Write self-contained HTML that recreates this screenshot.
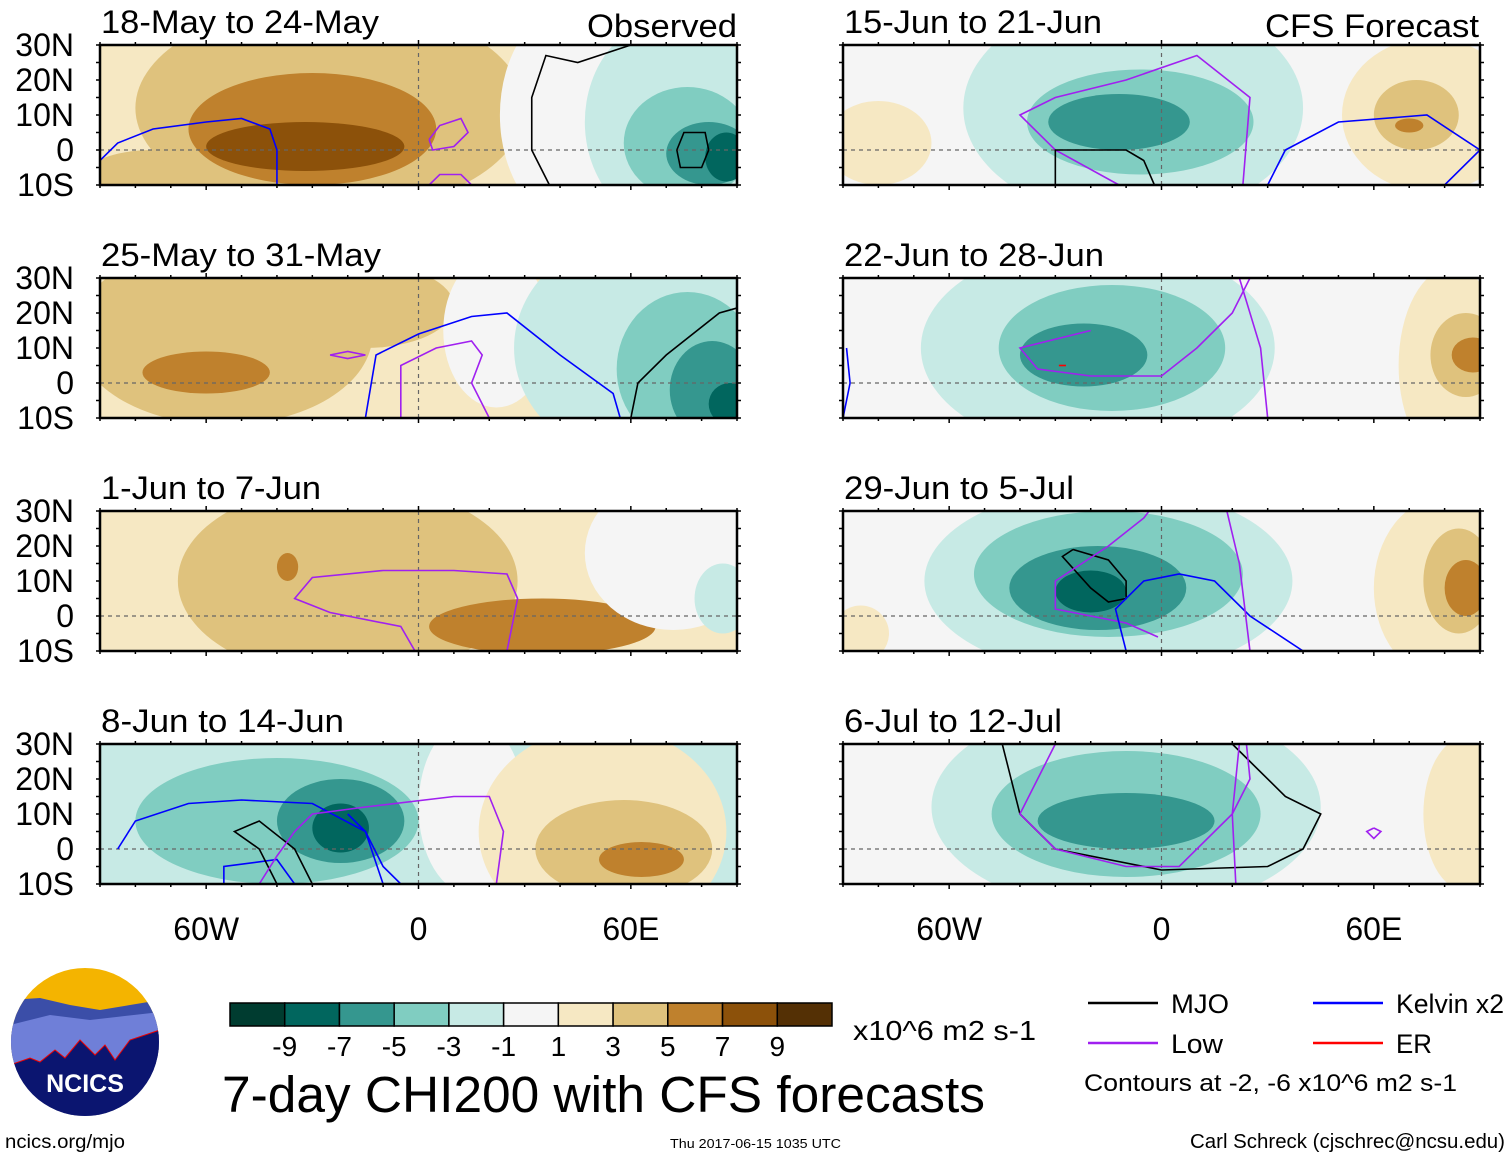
<!DOCTYPE html>
<html><head><meta charset="utf-8"><style>
body{margin:0;background:#fff;width:1510px;height:1158px;overflow:hidden;font-family:"Liberation Sans",sans-serif}
svg text{font-family:"Liberation Sans",sans-serif}
</style></head><body>
<svg id="c" width="1510" height="1158" xmlns="http://www.w3.org/2000/svg"></svg>
<script>
const palette=["#003c30","#01665e","#35978f","#80cdc1","#c7eae5","#f5f5f5","#f6e8c3","#dfc27d","#bf812d","#8c510a","#543005"];
const panelTitles=["18-May to 24-May","25-May to 31-May","1-Jun to 7-Jun","8-Jun to 14-Jun","15-Jun to 21-Jun","22-Jun to 28-Jun","29-Jun to 5-Jul","6-Jul to 12-Jul"];
const panelBg=[6,6,6,4,5,5,5,5];
// blobs: [lon, lat, radiusLon, radiusLat, colorIndex]
const blobs0=[[-75,-8,20,8,7],[-25,12,55,30,7],[-30,6,35,16,8],[-32,1,28,7,9],[45,10,22,32,5],[72,8,25,30,4],[76,2,18,16,3],[82,-1,12,9,2],[87,-2,6,7,1]];
const blobs1=[[-55,14,42,26,7],[-15,22,25,12,7],[-60,3,18,6,8],[22,15,15,22,5],[62,10,35,32,4],[76,4,20,22,3],[83,-2,12,14,2],[88,-6,6,6,1]];
const blobs2=[[-20,10,48,28,7],[35,-3,32,8,8],[-37,14,3,4,8],[72,18,25,22,5],[86,5,8,10,4]];
const blobs3=[[-45,10,50,32,4],[-40,8,40,18,3],[-22,8,18,12,2],[-22,6,8,7,1],[15,12,15,25,5],[52,5,35,30,6],[58,0,25,14,7],[63,-3,12,5,8]];
const blobs4=[[-80,2,15,12,6],[-8,12,48,32,4],[-6,8,32,15,3],[-12,8,20,8,2],[76,10,25,22,6],[72,10,12,10,7],[70,7,4,2,8]];
const blobs5=[[-18,10,50,30,4],[-14,10,32,18,3],[-22,8,18,9,2],[82,5,15,28,6],[86,8,10,12,7],[88,8,6,5,8]];
const blobs6=[[-85,-5,8,8,6],[-15,10,52,27,4],[-15,12,38,18,3],[-18,8,25,12,2],[-20,7,10,6,1],[80,8,20,26,6],[84,10,10,15,7],[86,8,6,8,8]];
const blobs7=[[-10,12,55,30,4],[-10,10,38,18,3],[-10,8,25,8,2],[86,10,12,22,6]];
const panelBlobs=[blobs0,blobs1,blobs2,blobs3,blobs4,blobs5,blobs6,blobs7];
// contours: [color, [[lon,lat],...]]
const lines0=[["#0000ff",[[-92,-5],[-85,2],[-75,6],[-60,8],[-50,9],[-42,6],[-40,0],[-40,-10]]],["#a020f0",[[3,3],[6,7],[12,9],[14,5],[10,1],[4,0],[3,3]]],["#a020f0",[[3,-10],[6,-7],[12,-7],[15,-10]]],["#000",[[37,-10],[32,0],[32,15],[36,27],[45,25],[60,30]]],["#000",[[73,0],[75,5],[81,5],[82,0],[80,-5],[74,-5],[73,0]]]];
const lines1=[["#0000ff",[[-15,-10],[-12,8],[0,14],[15,19],[25,20],[40,8],[55,-3],[57,-10]]],["#a020f0",[[-25,8],[-20,9],[-15,8],[-20,7],[-25,8]]],["#a020f0",[[-5,-10],[-5,5],[5,10],[15,12],[18,8],[15,0],[20,-10]]],["#000",[[60,-10],[62,0],[70,8],[85,20],[92,22]]]];
const lines2=[["#a020f0",[[-1,-10],[-5,-3],[-25,1],[-35,5],[-30,11],[-10,13],[10,13],[25,12],[28,5],[25,-10]]]];
const lines3=[["#0000ff",[[-85,0],[-80,8],[-65,13],[-50,14],[-30,13],[-15,5],[-10,-10]]],["#0000ff",[[-55,-10],[-55,-5],[-40,-3],[-35,-10]]],["#000",[[-40,-10],[-45,0],[-52,5],[-45,8],[-35,0],[-30,-10]]],["#0000ff",[[-20,10],[-15,5],[-10,-5],[-5,-10]]],["#a020f0",[[-45,-10],[-40,-2],[-35,5],[-30,10],[-15,12],[10,15],[20,15],[24,5],[22,-10]]]];
const lines4=[["#a020f0",[[-12,-10],[-30,0],[-40,10],[-30,15],[-10,20],[10,27],[25,15],[23,-10]]],["#000",[[-30,-10],[-30,0],[-10,0],[-5,-3],[-2,-10]]],["#0000ff",[[30,-10],[35,0],[50,8],[75,10],[90,0],[80,-10]]]];
const lines5=[["#0000ff",[[-90,-10],[-88,0],[-89,10]]],["#a020f0",[[-20,15],[-40,10],[-35,4],[-20,2],[0,2],[10,10],[20,20],[25,30]]],["#a020f0",[[22,30],[28,10],[30,-10]]],["#ff0000",[[-29,5],[-27,5]]]];
const lines6=[["#000",[[-25,19],[-15,16],[-10,10],[-10,5],[-15,4],[-20,8],[-28,17],[-25,19]]],["#a020f0",[[-1,-6],[-10,-2],[-30,2],[-30,10],[-15,20],[-5,28],[-2,32]]],["#0000ff",[[-10,-10],[-13,2],[-5,10],[5,12],[15,10],[25,0],[40,-10]]],["#a020f0",[[18,32],[22,15],[25,-10]]]];
const lines7=[["#000",[[-45,30],[-40,10],[-30,0],[0,-6],[30,-5],[40,0],[45,10],[35,15],[25,25],[20,30]]],["#a020f0",[[-30,30],[-40,10],[-30,0],[-10,-5],[5,-5],[20,10],[25,20],[24,30]]],["#a020f0",[[60,6],[62,5],[60,3],[58,5],[60,6]]],["#a020f0",[[22,30],[20,10],[21,-10]]]];
const panelLines=[lines0,lines1,lines2,lines3,lines4,lines5,lines6,lines7];
const latTicks=["30N","20N","10N","0","10S"];
const latVals=[30,20,10,0,-10];
const lonTicks=["60W","0","60E"];
const lonVals=[-60,0,60];
const cbarLabels=["-9","-7","-5","-3","-1","1","3","5","7","9"];

const NS="http://www.w3.org/2000/svg";
const svg=document.getElementById('c');
function mk(tag,attrs,parent){const e=document.createElementNS(NS,tag);for(const k in attrs)e.setAttribute(k,attrs[k]);(parent||svg).appendChild(e);return e;}
const PW=637,PH=140;
const px=[100,100,100,100,843,843,843,843];
const py=[45,278,511,744,45,278,511,744];
const titleLen=[278,280,220,243,258,260,230,218];
function xs(p,lon){return px[p]+(lon+90)*PW/180;}
function ys(p,lat){return py[p]+(30-lat)*PH/40;}
const defs=mk('defs',{});
for(let p=0;p<8;p++){
  const cp=mk('clipPath',{id:'cp'+p},defs);
  mk('rect',{x:px[p],y:py[p],width:PW,height:PH},cp);
  const g=mk('g',{'clip-path':'url(#cp'+p+')'});
  
  
  const bg=mk('rect',{x:px[p],y:py[p],width:PW,height:PH,fill:palette[panelBg[p]]},g);
  
  
  panelBlobs[p].forEach(b=>{
    const e=mk('ellipse',{cx:xs(p,b[0]),cy:ys(p,b[1]),rx:b[2]*PW/180,ry:b[3]*PH/40,fill:palette[b[4]]},g);
    
    
  });
  const eq=mk('line',{x1:px[p],x2:px[p]+PW,y1:ys(p,0),y2:ys(p,0),stroke:'#666','stroke-dasharray':'4,4','stroke-width':1.2},g);
  
  
  const mer=mk('line',{x1:xs(p,0),x2:xs(p,0),y1:py[p],y2:py[p]+PH,stroke:'#666','stroke-dasharray':'4,4','stroke-width':1.2},g);
  
  
  panelLines[p].forEach(l=>{
    const pl=mk('polyline',{points:l[1].map(q=>xs(p,q[0])+','+ys(p,q[1])).join(' '),fill:'none',stroke:l[0],'stroke-width':1.6},g);
    
    
  });
  const fr=mk('rect',{x:px[p],y:py[p],width:PW,height:PH,fill:'none',stroke:'#000','stroke-width':2.5});
  
  
  for(let lon=-90;lon<=90;lon+=10){const big=lonVals.includes(lon);
    mk('line',{x1:xs(p,lon),x2:xs(p,lon),y1:py[p],y2:py[p]-(big?5:3),stroke:'#000','stroke-width':1.5});
    mk('line',{x1:xs(p,lon),x2:xs(p,lon),y1:py[p]+PH,y2:py[p]+PH+(big?5:3),stroke:'#000','stroke-width':1.5});}
  for(let lat=-10;lat<=30;lat+=5){
    mk('line',{x1:px[p],x2:px[p]-4,y1:ys(p,lat),y2:ys(p,lat),stroke:'#000','stroke-width':1.5});
    mk('line',{x1:px[p]+PW,x2:px[p]+PW+4,y1:ys(p,lat),y2:ys(p,lat),stroke:'#000','stroke-width':1.5});}
  const t=mk('text',{x:px[p]+1,y:py[p]-12,'font-size':32,fill:'#000',textLength:titleLen[p],lengthAdjust:'spacingAndGlyphs'});
  t.textContent=panelTitles[p];
  
  
  if(p<4){latVals.forEach((v,i)=>{
    const lt=mk('text',{x:74,y:ys(p,v)+11,'font-size':32,'text-anchor':'end'});
    lt.textContent=latTicks[i];
    
    });}
}
[[737,'Observed',150],[1479,'CFS Forecast',214]].forEach(a=>{
  const t=mk('text',{x:a[0]-a[2],y:37,'font-size':32,textLength:a[2],lengthAdjust:'spacingAndGlyphs'});t.textContent=a[1];
  
  });
[0,4].forEach(p=>{lonVals.forEach((v,i)=>{
  const t=mk('text',{x:xs(p,v),y:940,'font-size':32,'text-anchor':'middle'});t.textContent=lonTicks[i];
  
  });});
// colorbar
const cbx=230,cbw=602/11;
palette.forEach((c,i)=>{
  const r=mk('rect',{x:cbx+i*cbw,y:1003,width:cbw,height:23,fill:c,stroke:'#000','stroke-width':1.5});
  
  });
cbarLabels.forEach((s,i)=>{
  const t=mk('text',{x:cbx+(i+1)*cbw,y:1056,'font-size':28,'text-anchor':'middle'});t.textContent=s;
  
  });
function txt(x,y,s,fs,name,anchor,len){const t=mk('text',{x:x,y:y,'font-size':fs,'text-anchor':anchor||'start'});t.textContent=s;
  if(len){t.setAttribute('textLength',len);t.setAttribute('lengthAdjust','spacingAndGlyphs');}
  
  return t;}
txt(853,1040,'x10^6 m2 s-1',28,'colorbar-units',null,183);
txt(222,1112,'7-day CHI200 with CFS forecasts',51,'chart-title',null,763);
txt(5,1148,'ncics.org/mjo',19,'source-url',null,120);
txt(670,1148,'Thu 2017-06-15 1035 UTC',13,'timestamp',null,171);
txt(1190,1148,'Carl Schreck (cjschrec@ncsu.edu)',20,'author-credit',null,315);
// legend
[[1088,1003,'#000','MJO',58],[1313,1003,'#0000ff','Kelvin x2',108],[1088,1043,'#a020f0','Low',52],[1313,1043,'#ff0000','ER',36]].forEach(l=>{
  const ln=mk('line',{x1:l[0],x2:l[0]+70,y1:l[1],y2:l[1],stroke:l[2],'stroke-width':2.5});
  
  
  txt(l[0]+83,l[1]+10,l[3],27,'legend-entry',null,l[4]);});
txt(1084,1091,'Contours at -2, -6 x10^6 m2 s-1',24,'contour-note',null,373);
// logo
const lg=mk('g',{});


const lc=mk('clipPath',{id:'lc'},defs);
mk('circle',{cx:85,cy:1042,r:74},lc);
const lgc=mk('g',{'clip-path':'url(#lc)'},lg);
mk('rect',{x:10,y:965,width:150,height:160,fill:'#f4b400'},lgc);
mk('path',{d:'M10 1000 L40 998 L70 1005 L100 1010 L130 1005 L160 1000 L160 1125 L10 1125Z',fill:'#3b4ea8'},lgc);
mk('path',{d:'M10 1025 L50 1015 L90 1020 L160 1012 L160 1125 L10 1125Z',fill:'#6f7fd8'},lgc);
mk('path',{d:'M10 1065 L30 1058 L40 1062 L55 1050 L65 1058 L80 1040 L95 1055 L105 1045 L115 1060 L130 1040 L160 1030 L160 1125 L10 1125Z',fill:'#0b1570',stroke:'#e00','stroke-width':1}, lgc);
const lt=mk('text',{x:85,y:1092,'font-size':25,'font-weight':'bold',fill:'#fff','text-anchor':'middle'},lg);lt.textContent='NCICS';
</script>
</body></html>
